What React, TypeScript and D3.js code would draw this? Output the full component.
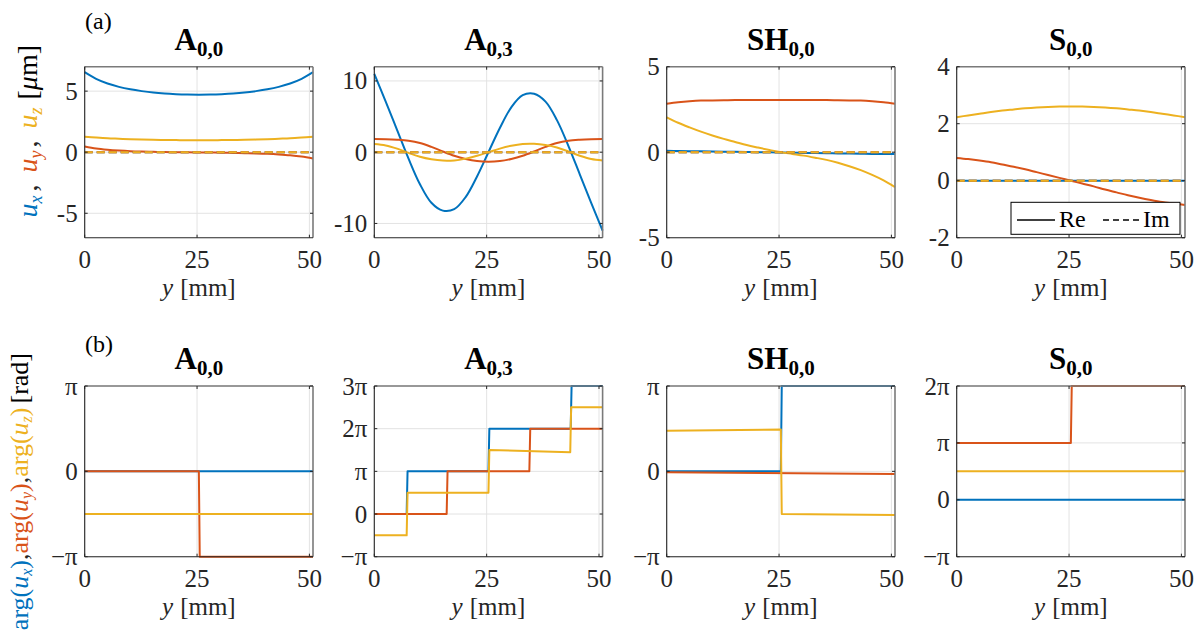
import React from "react";
import * as d3 from "d3";

// ---------- DATA ----------
const ySamples = [0, 2.54, 5.08, 7.62, 10.16, 12.7, 15.24, 17.78, 20.32, 22.86, 25.4, 27.94, 30.48, 33.02, 35.56, 38.1, 40.64, 43.18, 45.72, 48.26, 50.8];

// (a) real parts [µm]
const A00_ux = [6.55, 6.0, 5.62, 5.35, 5.15, 5.0, 4.88, 4.8, 4.75, 4.72, 4.71, 4.72, 4.75, 4.8, 4.88, 5.0, 5.15, 5.35, 5.62, 6.0, 6.55];
const A00_uy = [0.46, 0.3, 0.2, 0.13, 0.08, 0.05, 0.03, 0.01, 0.0, -0.01, -0.02, -0.03, -0.04, -0.06, -0.08, -0.1, -0.13, -0.18, -0.25, -0.36, -0.52];
const A00_uz = [1.27, 1.2, 1.14, 1.1, 1.06, 1.03, 1.01, 1.0, 0.99, 0.98, 0.98, 0.98, 0.99, 1.0, 1.01, 1.03, 1.06, 1.1, 1.14, 1.2, 1.27];

const A03_ux = [11.0, 7.1, 3.1, -0.9, -4.5, -7.1, -8.2, -8.0, -6.3, -3.4, 0.0, 3.4, 6.3, 8.0, 8.2, 7.1, 4.5, 0.9, -3.1, -7.1, -11.0];
const A03_uy = [1.85, 1.83, 1.76, 1.62, 1.3, 0.75, 0.1, -0.5, -0.95, -1.25, -1.35, -1.25, -0.95, -0.5, 0.1, 0.75, 1.3, 1.62, 1.76, 1.83, 1.85];
const A03_uz = [1.15, 0.95, 0.5, -0.1, -0.65, -1.0, -1.18, -1.15, -0.9, -0.5, 0.0, 0.5, 0.9, 1.15, 1.18, 1.0, 0.65, 0.1, -0.5, -0.95, -1.15];

const SH00_ux = [0.08, 0.07, 0.06, 0.05, 0.04, 0.03, 0.02, 0.01, 0.0, -0.01, -0.02, -0.03, -0.04, -0.05, -0.06, -0.07, -0.08, -0.09, -0.1, -0.1, -0.11];
const SH00_uy = [2.84, 2.92, 2.98, 3.02, 3.03, 3.04, 3.05, 3.05, 3.05, 3.05, 3.05, 3.05, 3.05, 3.05, 3.05, 3.04, 3.03, 3.02, 2.98, 2.92, 2.84];
const SH00_uz = [2.04, 1.72, 1.45, 1.2, 0.98, 0.78, 0.6, 0.42, 0.27, 0.13, 0.0, -0.1, -0.2, -0.32, -0.45, -0.62, -0.82, -1.05, -1.33, -1.65, -2.04];

const S00_ux = [0, 0, 0, 0, 0, 0, 0, 0, 0, 0, 0, 0, 0, 0, 0, 0, 0, 0, 0, 0, 0];
const S00_uy = [0.8, 0.76, 0.71, 0.65, 0.57, 0.49, 0.4, 0.3, 0.2, 0.1, 0.0, -0.1, -0.2, -0.31, -0.41, -0.51, -0.6, -0.68, -0.75, -0.8, -0.85];
const S00_uz = [2.23, 2.29, 2.35, 2.41, 2.46, 2.5, 2.54, 2.57, 2.59, 2.6, 2.6, 2.6, 2.59, 2.57, 2.54, 2.5, 2.46, 2.41, 2.35, 2.29, 2.23];

// imaginary parts (all zero)
const imY = [0, 50.8];
const imV = [0, 0];

// (b) phases, in units of pi
const A00_arg_ux_y = [0, 50.8];
const A00_arg_ux_v = [0, 0];
const A00_arg_uy_y = [0, 25.4, 25.6, 50.8];
const A00_arg_uy_v = [0, 0, -1, -1];
const A00_arg_uz_y = [0, 50.8];
const A00_arg_uz_v = [-0.5, -0.5];

const A03_arg_ux_y = [0, 7.2, 7.4, 25.4, 25.6, 43.7, 43.9, 50.8];
const A03_arg_ux_v = [0, 0, 1, 1, 2, 2, 3, 3];
const A03_arg_uy_y = [0, 16.1, 16.3, 34.5, 34.7, 50.8];
const A03_arg_uy_v = [0, 0, 1, 1, 2, 2];
const A03_arg_uz_y = [0, 7.2, 7.4, 25.4, 25.6, 43.6, 43.8, 50.8];
const A03_arg_uz_v = [-0.5, -0.5, 0.5, 0.5, 1.5, 1.45, 2.5, 2.5];

const SH00_arg_ux_y = [0, 25.4, 25.6, 50.8];
const SH00_arg_ux_v = [0, 0, 1, 1];
const SH00_arg_uy_y = [0, 50.8];
const SH00_arg_uy_v = [-0.01, -0.03];
const SH00_arg_uz_y = [0, 25.4, 25.6, 50.8];
const SH00_arg_uz_v = [0.476, 0.49, -0.5, -0.51];

const S00_arg_ux_y = [0, 50.8];
const S00_arg_ux_v = [0, 0];
const S00_arg_uy_y = [0, 25.4, 25.6, 50.8];
const S00_arg_uy_v = [1, 1, 2, 2];
const S00_arg_uz_y = [0, 50.8];
const S00_arg_uz_v = [0.5, 0.5];

const titles = [
  { main: "A", sub: "0,0" },
  { main: "A", sub: "0,3" },
  { main: "SH", sub: "0,0" },
  { main: "S", sub: "0,0" },
];
const xTicks = [0, 25, 50];
const xDomain = [0, 50.8];
const topDomains = [[-7, 7], [-12, 12], [-5, 5], [-2, 4]];
const topTicks = [[-5, 0, 5], [-10, 0, 10], [-5, 0, 5], [-2, 0, 2, 4]];
const botDomains = [[-1, 1], [-1, 3], [-1, 1], [-1, 2]];
const botTicks = [[-1, 0, 1], [-1, 0, 1, 2, 3], [-1, 0, 1], [-1, 0, 1, 2]];

const COLORS = ["#0072BD", "#D95319", "#EDB120"];

// ---------- LAYOUT ----------
const PANEL_LEFT = [84.7, 374.3, 666.7, 956.7];
const PANEL_W = 228.3;
const ROW_TOP = [66.7, 386];
const ROW_H = [171, 170.7];
const FONT = "Liberation Serif";
const AX = "#262626";
const TICK_FS = 25;

type Series = { xs: number[]; vs: number[]; color: string; dash?: string };

function fmtPi(k: number) {
  if (k === 0) return "0";
  if (k === 1) return "π";
  if (k === -1) return "−π";
  return `${k}π`;
}

function Panel(props: {
  left: number; top: number; width: number; height: number;
  yDomain: number[]; yTicks: number[]; fmt: (v: number) => string;
  title: { main: string; sub: string }; series: Series[]; curved: boolean;
  legend?: boolean;
}) {
  const { left, top, width, height, yDomain, yTicks, fmt, title, series, curved, legend } = props;
  const x = d3.scaleLinear().domain(xDomain).range([left, left + width]);
  const y = d3.scaleLinear().domain(yDomain).range([top + height, top]);
  const right = left + width;
  const bottom = top + height;
  const tl = 3;
  return (
    <g>
      {xTicks.map((t) => (
        <line key={"gx" + t} x1={x(t)} x2={x(t)} y1={top} y2={bottom} stroke="#e3e3e3" strokeWidth={1} />
      ))}
      {yTicks.map((t) => (
        <line key={"gy" + t} x1={left} x2={right} y1={y(t)} y2={y(t)} stroke="#e3e3e3" strokeWidth={1} />
      ))}
      {series.map((s, i) => {
        const line = d3
          .line<number>()
          .x((_, j) => x(s.xs[j]))
          .y((v) => y(v))
          .curve(curved ? d3.curveCatmullRom.alpha(0.5) : d3.curveLinear);
        return (
          <path key={"s" + i} d={line(s.vs) || ""} fill="none" stroke={s.color} strokeWidth={2}
            strokeDasharray={s.dash} strokeLinejoin="round" />
        );
      })}
      <line x1={left} x2={right} y1={top} y2={top} stroke="#7a7a7a" strokeWidth={1.6} />
      <line x1={right} x2={right} y1={top} y2={bottom} stroke="#7a7a7a" strokeWidth={1.6} />
      <line x1={left} x2={left} y1={top} y2={bottom} stroke={AX} strokeWidth={1.1} />
      <line x1={left} x2={right} y1={bottom} y2={bottom} stroke={AX} strokeWidth={1.1} />
      {xTicks.map((t) => (
        <g key={"tx" + t}>
          <line x1={x(t)} x2={x(t)} y1={bottom} y2={bottom - tl} stroke={AX} />
          <line x1={x(t)} x2={x(t)} y1={top} y2={top + tl} stroke={AX} />
          <text x={x(t)} y={bottom + 30.5} textAnchor="middle" fontSize={TICK_FS} fill={AX}>
            {t}
          </text>
        </g>
      ))}
      {yTicks.map((t) => (
        <g key={"ty" + t}>
          <line x1={left} x2={left + tl} y1={y(t)} y2={y(t)} stroke={AX} />
          <line x1={right} x2={right - tl} y1={y(t)} y2={y(t)} stroke={AX} />
          <text x={left - 7} y={y(t)} dy="0.34em" textAnchor="end" fontSize={TICK_FS} fill={AX}>
            {fmt(t)}
          </text>
        </g>
      ))}
      <text x={(left + right) / 2} y={bottom + 58} textAnchor="middle" fontSize={TICK_FS} fill={AX}>
        <tspan fontStyle="italic">y</tspan>
        <tspan dx={7}>[mm]</tspan>
      </text>
      <text x={(left + right) / 2} y={top - 17} textAnchor="middle" fontWeight="bold" fill="#000">
        <tspan fontSize={31}>{title.main}</tspan>
        <tspan fontSize={21} dy={6}>{title.sub}</tspan>
      </text>
      {legend && (
        <g>
          <rect x={1011} y={202.3} width={169} height={32} fill="#fff" stroke="#000" strokeWidth={1} />
          <line x1={1017} x2={1055} y1={220} y2={220} stroke="#000" strokeWidth={1.3} />
          <text x={1059} y={227} fontSize={24} fill="#000">Re</text>
          <line x1={1103} x2={1140} y1={220} y2={220} stroke="#000" strokeWidth={1.3} strokeDasharray="6,4" />
          <text x={1143} y={227} fontSize={24} fill="#000">Im</text>
        </g>
      )}
    </g>
  );
}

export default function App() {
  const topData = [
    [A00_ux, A00_uy, A00_uz],
    [A03_ux, A03_uy, A03_uz],
    [SH00_ux, SH00_uy, SH00_uz],
    [S00_ux, S00_uy, S00_uz],
  ];
  const botData = [
    [[A00_arg_ux_y, A00_arg_ux_v], [A00_arg_uy_y, A00_arg_uy_v], [A00_arg_uz_y, A00_arg_uz_v]],
    [[A03_arg_ux_y, A03_arg_ux_v], [A03_arg_uy_y, A03_arg_uy_v], [A03_arg_uz_y, A03_arg_uz_v]],
    [[SH00_arg_ux_y, SH00_arg_ux_v], [SH00_arg_uy_y, SH00_arg_uy_v], [SH00_arg_uz_y, SH00_arg_uz_v]],
    [[S00_arg_ux_y, S00_arg_ux_v], [S00_arg_uy_y, S00_arg_uy_v], [S00_arg_uz_y, S00_arg_uz_v]],
  ];
  const sub = { fontSize: 18 };
  return (
    <svg width={1197} height={632} style={{ position: "absolute", left: 0, top: 0, background: "#fff", fontFamily: FONT }}>
      {topData.map((d, i) => {
        const series: Series[] = [
          ...d.map((vs, k) => ({ xs: ySamples, vs, color: COLORS[k] })),
          ...COLORS.map((c) => ({ xs: imY, vs: imV, color: c, dash: "8,4" })),
        ];
        return (
          <Panel key={"t" + i} left={PANEL_LEFT[i]} top={ROW_TOP[0]} width={PANEL_W} height={ROW_H[0]}
            yDomain={topDomains[i]} yTicks={topTicks[i]} fmt={(v) => String(v)} title={titles[i]}
            series={series} curved={true} legend={i === 3} />
        );
      })}
      {botData.map((d, i) => {
        const series: Series[] = d.map((p, k) => ({ xs: p[0], vs: p[1], color: COLORS[k] }));
        return (
          <Panel key={"b" + i} left={PANEL_LEFT[i]} top={ROW_TOP[1]} width={PANEL_W} height={ROW_H[1]}
            yDomain={botDomains[i]} yTicks={botTicks[i]} fmt={fmtPi} title={titles[i]}
            series={series} curved={false} />
        );
      })}
      <text x={85} y={29} fontSize={24} fill="#000">(a)</text>
      <text x={85} y={352} fontSize={24} fill="#000">(b)</text>
      <text transform="translate(37,45) rotate(-90)" textAnchor="end" fontSize={28}>
        <tspan fill={COLORS[0]} fontStyle="italic">u</tspan>
        <tspan fill={COLORS[0]} fontStyle="italic" {...sub} dy={5}>x</tspan>
        <tspan fill={AX} dy={-5} dx={4}>,</tspan>
        <tspan fill={COLORS[1]} fontStyle="italic" dx={12}>u</tspan>
        <tspan fill={COLORS[1]} fontStyle="italic" {...sub} dy={5}>y</tspan>
        <tspan fill={AX} dy={-5} dx={3}>,</tspan>
        <tspan fill={COLORS[2]} fontStyle="italic" dx={12}>u</tspan>
        <tspan fill={COLORS[2]} fontStyle="italic" {...sub} dy={5}>z</tspan>
        <tspan fill="#000" dy={-5} dx={8}>[</tspan>
        <tspan fill="#000" fontStyle="italic">μ</tspan>
        <tspan fill="#000">m]</tspan>
      </text>
      <text transform="translate(28,353) rotate(-90)" textAnchor="end" fontSize={26}>
        <tspan fill={COLORS[0]}>arg(</tspan>
        <tspan fill={COLORS[0]} fontStyle="italic">u</tspan>
        <tspan fill={COLORS[0]} fontStyle="italic" fontSize={16} dy={4}>x</tspan>
        <tspan fill={COLORS[0]} dy={-4}>)</tspan>
        <tspan fill={AX}>,</tspan>
        <tspan fill={COLORS[1]}>arg(</tspan>
        <tspan fill={COLORS[1]} fontStyle="italic">u</tspan>
        <tspan fill={COLORS[1]} fontStyle="italic" fontSize={16} dy={4}>y</tspan>
        <tspan fill={COLORS[1]} dy={-4}>)</tspan>
        <tspan fill={AX}>,</tspan>
        <tspan fill={COLORS[2]}>arg(</tspan>
        <tspan fill={COLORS[2]} fontStyle="italic">u</tspan>
        <tspan fill={COLORS[2]} fontStyle="italic" fontSize={16} dy={4}>z</tspan>
        <tspan fill={COLORS[2]} dy={-4}>)</tspan>
        <tspan fill="#000" dx={4}>[rad]</tspan>
      </text>
    </svg>
  );
}
